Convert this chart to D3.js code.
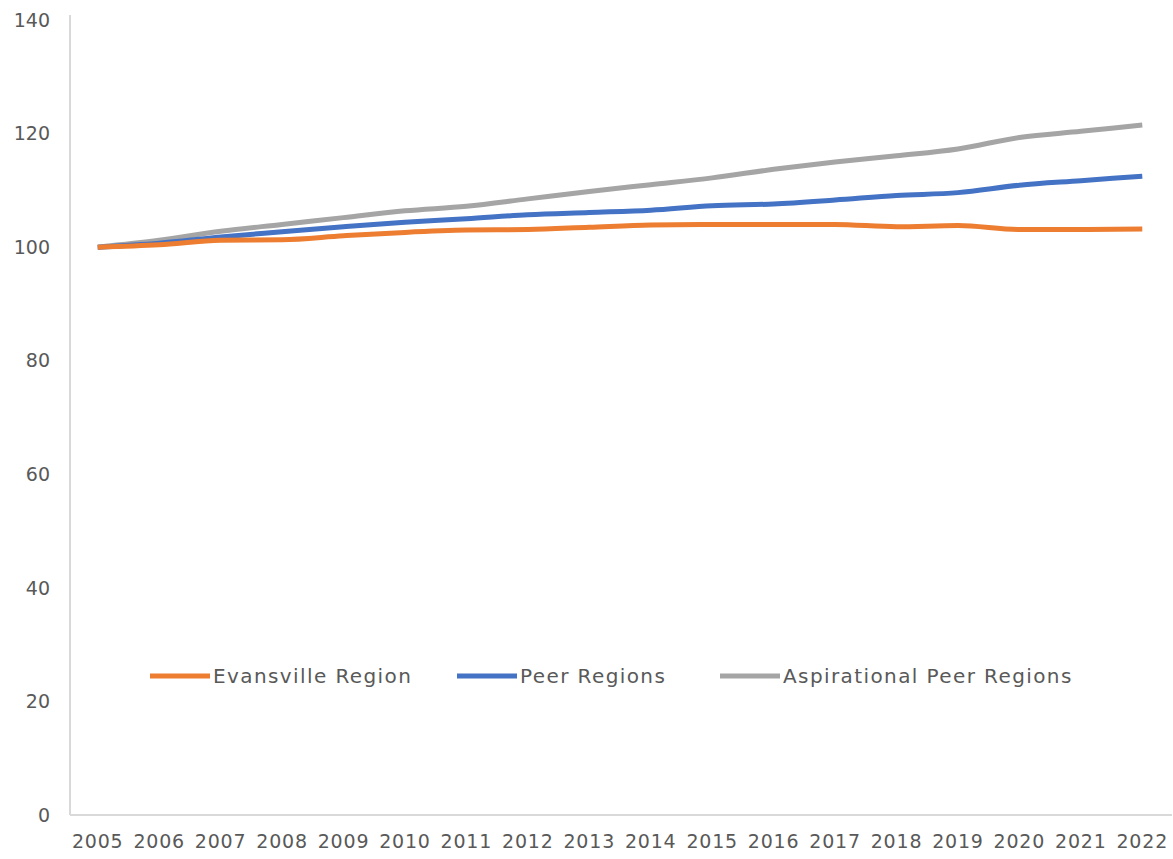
<!DOCTYPE html>
<html>
<head>
<meta charset="utf-8">
<script src="https://d3js.org/d3.v7.min.js"></script>
<style>
  body { margin: 0; background: #fff; }
  text { font-family: "DejaVu Sans", sans-serif; fill: #595959; }
</style>
</head>
<body>
<script>
// ---- data ----
var years = ["2005","2006","2007","2008","2009","2010","2011","2012","2013",
             "2014","2015","2016","2017","2018","2019","2020","2021","2022"]
var evansville = [100, 100.4, 101.2, 101.3, 102, 102.6, 103, 103.1, 103.5,
                  103.9, 104, 104, 104, 103.6, 103.8, 103.1, 103.1, 103.2]
var peer = [100, 100.7, 101.8, 102.7, 103.6, 104.4, 105, 105.7, 106.1,
            106.5, 107.3, 107.6, 108.3, 109.1, 109.6, 110.9, 111.7, 112.5]
var aspirational = [100, 101.2, 102.8, 104, 105.2, 106.4, 107.2, 108.5, 109.8,
                    111, 112.2, 113.7, 115, 116.1, 117.3, 119.3, 120.4, 121.5]
var yTicks = [0, 20, 40, 60, 80, 100, 120, 140]
var seriesNames = ["Evansville Region", "Peer Regions", "Aspirational Peer Regions"]
var colors = ["#ED7D31", "#4472C4", "#A5A5A5"]

var W = 1173, H = 859
var svg = d3.select('body').append('svg').attr('width', W).attr('height', H)

var x = d3.scalePoint().domain(years).range([67, 1173]).padding(0.5)
var y = d3.scaleLinear().domain([0, 140]).range([815, 20])

// axes lines
svg.append('line').attr('x1', 70).attr('x2', 70).attr('y1', y(140) - 5).attr('y2', y(0))
  .style('stroke', '#d9d9d9').style('stroke-width', 2)
svg.append('line').attr('x1', 70).attr('x2', 1172).attr('y1', y(0)).attr('y2', y(0))
  .style('stroke', '#d9d9d9').style('stroke-width', 2)

// y tick labels
svg.selectAll('.ylab').data(yTicks).enter().append('text')
  .attr('class', 'ylab')
  .attr('x', 50).attr('y', function(d){ return y(d) })
  .attr('dy', '0.35em').attr('text-anchor', 'end')
  .style('font-size', '19px')
  .text(function(d){ return d })

// x tick labels
svg.selectAll('.xlab').data(years).enter().append('text')
  .attr('class', 'xlab')
  .attr('x', function(d){ return x(d) }).attr('y', 848)
  .attr('text-anchor', 'middle')
  .style('font-size', '19px')
  .style('letter-spacing', '0.8px')
  .text(function(d){ return d })

// lines
var line = d3.line()
  .x(function(d, i){ return x(years[i]) })
  .y(function(d){ return y(d) })
  .curve(d3.curveMonotoneX)

var all = [evansville, peer, aspirational]
all.slice().reverse().forEach(function(s, k) {
  var idx = all.length - 1 - k
  svg.append('path').datum(s)
    .attr('d', line)
    .style('fill', 'none')
    .style('stroke', colors[idx])
    .style('stroke-width', 5)
    .style('stroke-linejoin', 'round')
})

// legend
var legX = [150, 457, 720]
seriesNames.forEach(function(name, i) {
  svg.append('line')
    .attr('x1', legX[i]).attr('x2', legX[i] + 60)
    .attr('y1', 676).attr('y2', 676)
    .style('stroke', colors[i]).style('stroke-width', 5)
  svg.append('text')
    .attr('x', legX[i] + 63).attr('y', 676).attr('dy', '0.35em')
    .style('font-size', '20px')
    .style('letter-spacing', '1.4px')
    .text(name)
})
</script>
</body>
</html>
